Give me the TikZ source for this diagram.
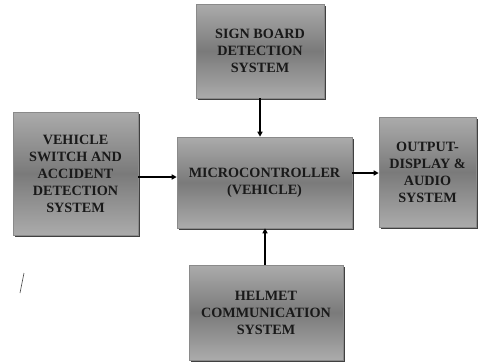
\documentclass[tikz,border=0pt]{standalone}
\usepackage{fontspec}
\setmainfont{Liberation Serif}
\usetikzlibrary{shadows,arrows.meta}
\definecolor{boxlight}{HTML}{ABABAB}
\definecolor{boxdark}{HTML}{7A7A7A}
\definecolor{boxline}{HTML}{8A8A8A}
\tikzset{
  blk/.style={draw=boxline, line width=0.6pt, top color=boxlight, bottom color=boxlight, middle color=boxdark,
    drop shadow={shadow xshift=2pt, shadow yshift=-2pt, fill=black!75, opacity=1},
    align=center, font=\bfseries\fontsize{14.2}{17}\selectfont, text=black!90, inner sep=0pt},
  conn/.style={-{Triangle[length=5pt,width=5pt]}, line width=1.3pt}
}
\begin{document}
\begin{tikzpicture}[x=1pt,y=-1pt]
\useasboundingbox (0,0) rectangle (478,362);
\fill[white] (0,0) rectangle (478,362);
\node[blk, minimum width=128pt, minimum height=94pt] (sign) at (260,51) {SIGN BOARD\\DETECTION\\SYSTEM};
\node[blk, minimum width=125pt, minimum height=123pt] (veh) at (75.5,173.5) {VEHICLE\\SWITCH AND\\ACCIDENT\\DETECTION\\SYSTEM};
\node[blk, minimum width=175pt, minimum height=91pt] (mc) at (264.5,182.5) {\raisebox{6pt}{\begin{tabular}{@{}c@{}}MICROCONTROLLER\\(VEHICLE)\end{tabular}}};
\node[blk, minimum width=97pt, minimum height=110pt] (out) at (427.5,172) {OUTPUT-\\DISPLAY \&\\AUDIO\\SYSTEM};
\node[blk, minimum width=154pt, minimum height=95pt] (hel) at (266,312.5) {HELMET\\COMMUNICATION\\SYSTEM};
\draw[conn] (sign.south -| 260,0) -- (mc.north -| 260,0);
\draw[conn] (veh.east |- 0,177) -- (mc.west |- 0,177);
\draw[conn] (mc.east |- 0,173) -- (out.west |- 0,173);
\draw[conn] (hel.north -| 265,0) -- (mc.south -| 265,0);
\coordinate (s1) at (24,273);
\coordinate (s2) at (20,293);
\draw[line width=0.6pt, black!70] (s1) -- (s2);
\end{tikzpicture}
\end{document}
